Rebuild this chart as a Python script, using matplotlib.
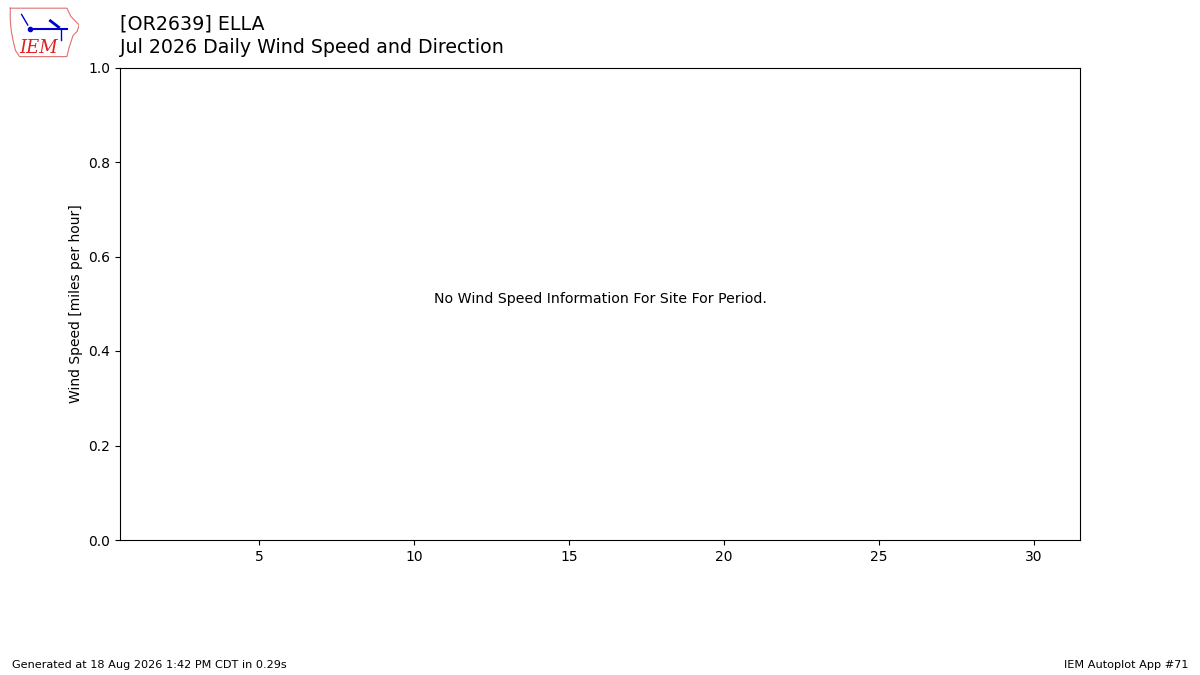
import matplotlib
matplotlib.use("Agg")
import matplotlib.pyplot as plt

station = "[OR2639] ELLA"
subtitle = "Jul 2026 Daily Wind Speed and Direction"
days = list(range(1, 32))
speeds = []  # no observations for this period
xticks = [5, 10, 15, 20, 25, 30]
yticks = [0.0, 0.2, 0.4, 0.6, 0.8, 1.0]

fig = plt.figure(figsize=(12, 6.75), dpi=100)
ax = fig.add_axes([0.1, 0.2, 0.8, 0.7])

if speeds:
    ax.bar(days[:len(speeds)], speeds)
else:
    ax.text(0.5, 0.51, "No Wind Speed Information For Site For Period.",
            transform=ax.transAxes, ha="center", va="center", fontsize=10.2)

ax.set_xlim(days[0] - 0.5, days[-1] + 0.5)
ax.set_ylim(0, 1)
ax.set_xticks(xticks)
ax.set_yticks(yticks)
ax.set_ylabel("Wind Speed [miles per hour]")

fig.text(0.1, 0.978, station, fontsize=13.7, ha="left", va="top")
fig.text(0.1, 0.943, subtitle, fontsize=13.7, ha="left", va="top")

fig.text(0.01, 0.015, "Generated at 18 Aug 2026 1:42 PM CDT in 0.29s",
         fontsize=8.15, ha="left", va="center")
fig.text(0.99, 0.015, "IEM Autoplot App #71", fontsize=8.15, ha="right", va="center")

# rough IEM logo
lax = fig.add_axes([0.006, 0.913, 0.06, 0.078])
lax.set_xlim(0, 70)
lax.set_ylim(50, 0)
lax.axis("off")
ox = [3, 58, 60, 62, 66, 70, 68, 64, 62, 60, 58, 12, 8, 6, 4, 3, 3]
oy = [2, 2, 6, 10, 14, 18, 24, 28, 34, 40, 48, 48, 42, 34, 24, 14, 2]
lax.plot(ox, oy, color="#e07070", lw=0.8)
lax.plot([22, 58], [22, 22], color="#0000cc", lw=1.5)
lax.plot([22], [22], "o", color="#0000cc", ms=3)
lax.plot([14, 20], [8, 18], color="#0000cc", lw=1)
lax.plot([42, 50], [14, 20], color="#0000cc", lw=2)
lax.plot([52, 52], [22, 32], color="#0000cc", lw=1)
lax.text(12, 40, "IEM", color="#dd2222", fontsize=13, family="DejaVu Serif",
         style="italic", va="center")

fig.savefig("out.png", dpi=100)
